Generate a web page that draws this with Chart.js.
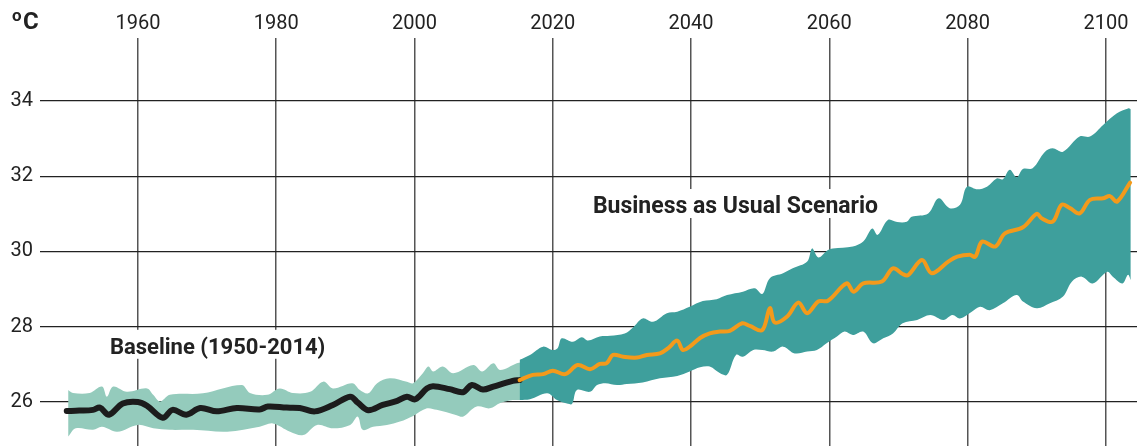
<!DOCTYPE html>
<html>
<head>
<meta charset="utf-8">
<script src="https://cdn.jsdelivr.net/npm/chart.js@4/dist/chart.umd.min.js"></script>
<style>
    html, body { margin: 0; padding: 0; background: #fff; overflow: hidden; }
    canvas { display: block; }
</style>
</head>
<body>
<canvas id="temp-chart" width="1137" height="446"></canvas>
<script>
// tick labels
const xTicks = [1960, 1980, 2000, 2020, 2040, 2060, 2080, 2100];
const yTicks = [26, 28, 30, 32, 34];

// baseline mean (black line)
const baseYears = [1949.7, 1951.5, 1953.5, 1954.5, 1955.8, 1957.8, 1960.0, 1961.3, 1963.6, 1965.0, 1967.0, 1969.0, 1971.4, 1974.3, 1977.6, 1978.8, 1981.5, 1983.4, 1985.6, 1988.2, 1990.7, 1991.8, 1993.3, 1995.4, 1997.5, 1998.9, 2000.1, 2001.8, 2002.7, 2005.1, 2007.0, 2008.3, 2009.9, 2011.4, 2014.2, 2015.2];
const baseTemps = [25.76, 25.77, 25.79, 25.85, 25.66, 25.96, 26.0, 25.9, 25.58, 25.79, 25.66, 25.84, 25.75, 25.84, 25.8, 25.88, 25.85, 25.84, 25.75, 25.92, 26.14, 25.98, 25.78, 25.92, 26.03, 26.14, 26.07, 26.36, 26.42, 26.34, 26.26, 26.45, 26.33, 26.41, 26.56, 26.58];

// baseline spread (light band)
const baseHighYears = [1949.9, 1950.6, 1953.0, 1954.8, 1955.5, 1956.4, 1958.4, 1961.3, 1962.2, 1963.2, 1964.6, 1969.4, 1975.0, 1976.2, 1978.7, 1980.5, 1982.4, 1984.9, 1986.8, 1988.2, 1991.0, 1992.1, 1993.3, 1994.6, 1996.4, 1998.9, 1999.8, 2001.2, 2002.0, 2002.7, 2004.1, 2005.6, 2008.5, 2009.8, 2011.4, 2012.4, 2014.8, 2015.4];
const baseHighTemps = [26.32, 26.24, 26.24, 26.41, 26.14, 26.41, 26.27, 26.36, 26.19, 26.01, 26.19, 26.23, 26.45, 26.24, 26.19, 26.36, 26.24, 26.27, 26.54, 26.36, 26.5, 26.32, 26.23, 26.5, 26.63, 26.54, 26.5, 26.76, 26.94, 26.81, 26.94, 26.76, 26.98, 26.81, 27.03, 26.85, 27.03, 27.05];
const baseLowYears = [1949.9, 1951.0, 1953.5, 1954.8, 1957.0, 1960.0, 1962.2, 1964.6, 1968.0, 1972.9, 1977.6, 1979.5, 1982.0, 1983.9, 1985.9, 1988.2, 1990.7, 1991.8, 1992.5, 1994.0, 1996.0, 1997.9, 1999.8, 2001.8, 2003.2, 2006.1, 2007.0, 2009.0, 2010.9, 2012.4, 2014.2, 2015.4];
const baseLowTemps = [25.08, 25.3, 25.26, 25.34, 25.21, 25.39, 25.3, 25.26, 25.26, 25.21, 25.34, 25.43, 25.21, 25.12, 25.39, 25.3, 25.39, 25.61, 25.26, 25.34, 25.39, 25.48, 25.63, 25.83, 25.79, 25.65, 25.61, 25.88, 25.83, 25.97, 26.05, 26.05];

// business as usual mean (orange line)
const scenYears = [2015.2, 2017.1, 2018.6, 2020.0, 2021.8, 2023.6, 2025.4, 2026.8, 2027.8, 2028.7, 2030.2, 2032.2, 2033.6, 2035.5, 2036.7, 2038.0, 2038.8, 2039.8, 2041.3, 2042.7, 2044.2, 2045.6, 2047.4, 2048.5, 2050.3, 2051.4, 2052.1, 2053.9, 2055.5, 2056.8, 2058.4, 2059.8, 2062.5, 2063.5, 2064.9, 2067.6, 2069.2, 2070.6, 2071.4, 2073.4, 2074.8, 2077.2, 2078.5, 2080.3, 2081.1, 2082.1, 2084.0, 2085.4, 2088.0, 2090.0, 2090.7, 2092.3, 2093.6, 2094.8, 2096.2, 2097.7, 2099.6, 2100.6, 2101.6, 2103.5];
const scenTemps = [26.58, 26.72, 26.74, 26.83, 26.74, 26.98, 26.87, 27.01, 27.03, 27.25, 27.2, 27.18, 27.25, 27.29, 27.43, 27.63, 27.38, 27.47, 27.7, 27.82, 27.87, 27.89, 28.09, 28.02, 27.91, 28.49, 28.11, 28.27, 28.64, 28.36, 28.67, 28.69, 29.15, 28.93, 29.15, 29.2, 29.55, 29.4, 29.37, 29.77, 29.42, 29.73, 29.86, 29.91, 29.86, 30.26, 30.13, 30.48, 30.64, 31.0, 30.88, 30.79, 31.24, 31.15, 31.01, 31.37, 31.41, 31.47, 31.32, 31.83];

// business as usual spread (teal band)
const scenHighYears = [2015.2, 2016.7, 2018.6, 2019.9, 2020.7, 2021.3, 2022.9, 2024.2, 2025.1, 2026.8, 2028.3, 2030.4, 2031.6, 2033.0, 2034.5, 2036.5, 2038.0, 2039.8, 2041.7, 2043.7, 2045.2, 2047.5, 2049.2, 2050.3, 2051.4, 2053.3, 2054.7, 2056.8, 2057.5, 2058.4, 2059.8, 2060.5, 2063.4, 2064.9, 2066.2, 2067.0, 2068.5, 2069.8, 2071.2, 2071.9, 2074.3, 2075.8, 2077.4, 2078.9, 2079.9, 2081.4, 2082.8, 2084.2, 2085.1, 2086.1, 2087.1, 2088.0, 2089.4, 2091.2, 2092.3, 2093.8, 2096.2, 2097.7, 2099.6, 2101.6, 2103.2, 2103.6];
const scenHighTemps = [27.12, 27.25, 27.47, 27.38, 27.43, 27.69, 27.6, 27.72, 27.63, 27.74, 27.76, 27.82, 27.98, 28.22, 28.13, 28.36, 28.4, 28.53, 28.68, 28.73, 28.84, 28.93, 29.02, 28.87, 29.29, 29.42, 29.55, 29.73, 30.08, 29.84, 30.04, 30.08, 30.13, 30.26, 30.61, 30.44, 30.84, 30.78, 30.79, 30.92, 31.01, 31.41, 31.15, 31.24, 31.72, 31.65, 31.72, 31.94, 31.92, 32.17, 31.97, 32.19, 32.21, 32.65, 32.74, 32.65, 33.05, 33.05, 33.36, 33.67, 33.8, 33.78];
const scenLowYears = [2015.2, 2016.7, 2019.2, 2020.6, 2022.2, 2022.8, 2023.5, 2025.4, 2026.4, 2027.6, 2029.3, 2030.7, 2033.0, 2035.5, 2038.0, 2039.8, 2041.3, 2042.7, 2044.2, 2045.2, 2046.5, 2047.5, 2049.0, 2050.3, 2051.9, 2053.3, 2055.0, 2056.8, 2058.2, 2059.6, 2061.1, 2062.2, 2063.4, 2064.9, 2066.3, 2067.8, 2069.2, 2070.6, 2072.7, 2074.6, 2076.5, 2077.8, 2078.9, 2080.6, 2081.8, 2083.2, 2085.1, 2087.1, 2088.0, 2090.0, 2091.9, 2093.8, 2095.1, 2096.5, 2098.1, 2100.2, 2101.0, 2102.4, 2103.2, 2103.6];
const scenLowTemps = [26.05, 26.07, 26.23, 26.05, 25.95, 25.95, 26.32, 26.27, 26.45, 26.5, 26.45, 26.48, 26.52, 26.63, 26.69, 26.81, 26.92, 26.94, 26.76, 26.72, 27.25, 27.2, 27.38, 27.38, 27.34, 27.47, 27.29, 27.34, 27.38, 27.56, 27.74, 27.87, 27.78, 27.87, 27.56, 27.69, 27.82, 28.09, 28.18, 28.31, 28.18, 28.31, 28.22, 28.4, 28.53, 28.44, 28.62, 28.84, 28.67, 28.49, 28.62, 28.8, 29.2, 29.33, 29.15, 29.46, 29.33, 29.15, 29.38, 29.24];

// in-chart captions, anchored at the left end of their baseline
const notes = [
    { text: "Baseline (1950-2014)", year: 1955.95, temp: 27.28, size: 22 },
    { text: "Business as Usual Scenario", year: 2025.8, temp: 31.02, size: 23 },
];

const TEXT_COLOR = "#222";

function toPoints(xs, ys) {
    return xs.map((x, i) => ({ x: x, y: ys[i] }));
}

// white boxes behind the captions hide the grid lines, like the original
const captionPlugin = {
    id: "captions",
    afterDraw(chart) {
        const ctx = chart.ctx;
        const xs = chart.scales.x;
        const ys = chart.scales.y;
        ctx.save();
        ctx.textBaseline = "alphabetic";
        notes.forEach((n) => {
            ctx.font = "bold " + n.size + "px Roboto";
            const x = xs.getPixelForValue(n.year);
            const y = ys.getPixelForValue(n.temp);
            const w = ctx.measureText(n.text).width;
            ctx.fillStyle = "#fff";
            ctx.fillRect(x - 5, y - 24, w + 10, 29);
            ctx.fillStyle = TEXT_COLOR;
            ctx.fillText(n.text, x, y);
        });

        // unit label top-left
        ctx.fillStyle = TEXT_COLOR;
        ctx.font = "bold 17px Roboto";
        ctx.fillText("o", 12, 21);
        ctx.font = "bold 24px Roboto";
        ctx.fillText("C", 23, 29);
        ctx.restore();
    },
};

// chart area should run right to the canvas edges, so drop the label padding
function fixAxisBox(size) {
    return (scale) => {
        if (scale.isHorizontal()) {
            scale.height = size;
        } else {
            scale.width = size;
        }
        scale.paddingTop = 0;
        scale.paddingBottom = 0;
        scale.paddingLeft = 0;
        scale.paddingRight = 0;
    };
}

const bandLine = { borderColor: "rgba(0,0,0,0)", borderWidth: 1, pointRadius: 0 };

new Chart(document.getElementById("temp-chart").getContext("2d"), {
    type: "line",
    data: {
        datasets: [
            {
                label: "Business as Usual",
                data: toPoints(scenYears, scenTemps),
                borderColor: "#F39A1B",
                borderWidth: 4,
                fill: false,
                order: 0,
            },
            {
                label: "Baseline",
                data: toPoints(baseYears, baseTemps),
                borderColor: "#1c1c1c",
                borderWidth: 6,
                fill: false,
                order: 1,
            },
            Object.assign({ label: "BAU low", data: toPoints(scenLowYears, scenLowTemps), fill: false, order: 2 }, bandLine),
            Object.assign({ label: "BAU high", data: toPoints(scenHighYears, scenHighTemps), fill: 2, backgroundColor: "#3E9F9C", order: 3 }, bandLine),
            Object.assign({ label: "Baseline low", data: toPoints(baseLowYears, baseLowTemps), fill: false, order: 4 }, bandLine),
            Object.assign({ label: "Baseline high", data: toPoints(baseHighYears, baseHighTemps), fill: 4, backgroundColor: "#94CBBC", order: 5 }, bandLine),
        ],
    },
    options: {
        responsive: false,
        animation: false,
        devicePixelRatio: 1,
        layout: { padding: 0 },
        elements: {
            point: { radius: 0 },
            line: { tension: 0.35, borderCapStyle: "round", borderJoinStyle: "round" },
        },
        plugins: {
            legend: { display: false },
            tooltip: { enabled: false },
        },
        scales: {
            x: {
                type: "linear",
                position: "top",
                min: 1945.83,
                max: 2104.5,
                afterBuildTicks: (scale) => {
                    scale.ticks = xTicks.map((v) => ({ value: v }));
                },
                afterFit: fixAxisBox(38),
                grid: { color: "#555", lineWidth: 1.5, drawTicks: false },
                border: { display: false },
                ticks: {
                    color: TEXT_COLOR,
                    font: { family: "Roboto", size: 20 },
                    padding: 2,
                    maxRotation: 0,
                    autoSkip: false,
                    callback: (v) => String(v),
                },
            },
            y: {
                min: 24.83,
                max: 35.67,
                afterBuildTicks: (scale) => {
                    scale.ticks = yTicks.map((v) => ({ value: v }));
                },
                afterFit: fixAxisBox(40),
                grid: { color: "#222", lineWidth: 1.2, drawTicks: false },
                border: { display: false },
                ticks: {
                    color: TEXT_COLOR,
                    font: { family: "Roboto", size: 20 },
                    padding: 7,
                    autoSkip: false,
                    callback: (v) => String(v),
                },
            },
        },
    },
    plugins: [captionPlugin],
});
</script>
</body>
</html>
